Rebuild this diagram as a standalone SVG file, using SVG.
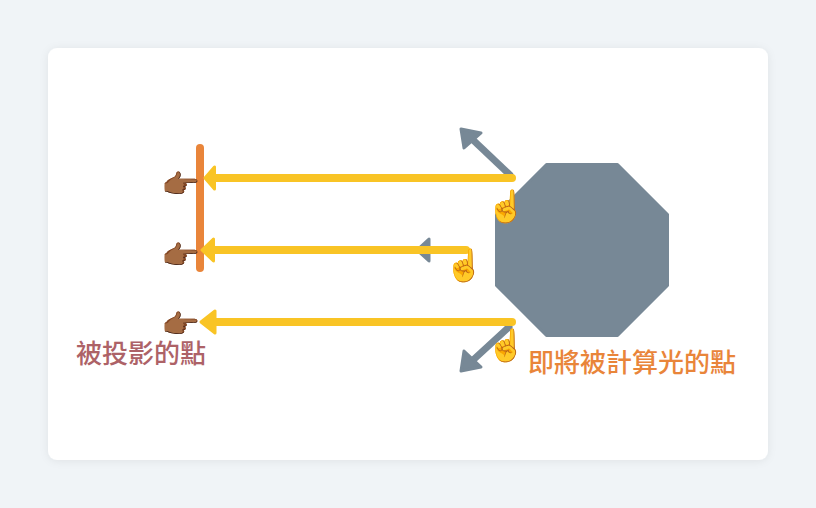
<svg xmlns="http://www.w3.org/2000/svg" width="816" height="508" viewBox="0 0 816 508">
<style>
.e{font-family:"Noto Color Emoji","Apple Color Emoji","Noto Sans CJK TC",sans-serif;font-size:26px}
.h{font-family:"Noto Color Emoji","Apple Color Emoji","Noto Sans CJK TC",sans-serif;font-size:31px}
.l{font-family:"Noto Sans CJK TC","Noto Sans CJK SC",sans-serif;font-size:26px;font-weight:500}
.g{fill:none;stroke:#778896;stroke-width:7;stroke-linecap:round}
.gh{fill:#778896;stroke:#778896;stroke-width:3;stroke-linejoin:round}
.y{fill:none;stroke:#f9c425;stroke-width:8;stroke-linecap:round}
.yh{fill:#f9c425;stroke:#f9c425;stroke-width:3;stroke-linejoin:round}
</style>
<defs><filter id="s" x="-5%" y="-5%" width="110%" height="110%"><feDropShadow dx="0" dy="1" stdDeviation="4" flood-color="#000" flood-opacity="0.07"/></filter></defs>
<rect width="816" height="508" fill="#f0f4f7"/>
<rect x="48" y="48" width="720" height="412" rx="9" fill="#fff" filter="url(#s)"/>
<g id="octagon"><path d="M546.5 164.500H617.500L667.500 214.500V285.500L617.500 335.500H546.500L496.500 285.500V214.500Z" fill="#778896" stroke="#778896" stroke-width="3" stroke-linejoin="round"/></g>
<g id="connectors">
<path class="g" d="M510 175L472 139"/><path class="gh" d="M461 129L481 133L464 148Z"/>
<path class="g" d="M509 327L472 361"/><path class="gh" d="M461 371L464 351L481 367Z"/>
<path class="gh" d="M429 239V261L417 250Z"/>
<path d="M200 148V268" fill="none" stroke="#e9853a" stroke-width="8" stroke-linecap="round"/>
<path class="y" d="M512 178H214"/><path class="yh" d="M214.500 167V189L205 178Z"/>
<path class="y" d="M466 250H212"/><path class="yh" d="M213.500 239V261L202 250Z"/>
<path class="y" d="M512 322H212"/><path class="yh" d="M215 311V333L201 322Z"/>
</g>
<g id="p1"><text class="e" transform="translate(161.600 193) scale(1.2 1)">👉🏾</text></g>
<g id="p2"><text class="e" transform="translate(161.600 264) scale(1.2 1)">👉🏾</text></g>
<g id="p3"><text class="e" transform="translate(161.600 333) scale(1.2 1)">👉🏾</text></g>
<g id="h1"><text class="h" x="487" y="217">☝️</text></g>
<g id="h2"><text class="h" x="445" y="276">☝️</text></g>
<g id="h3"><text class="h" x="487" y="356">☝️</text></g>
<g id="label1"><text class="l" x="76" y="363" fill="#ad6267">被投影的點</text></g>
<g id="label2"><text class="l" x="528" y="372" fill="#e9853a">即將被計算光的點</text></g>
</svg>
